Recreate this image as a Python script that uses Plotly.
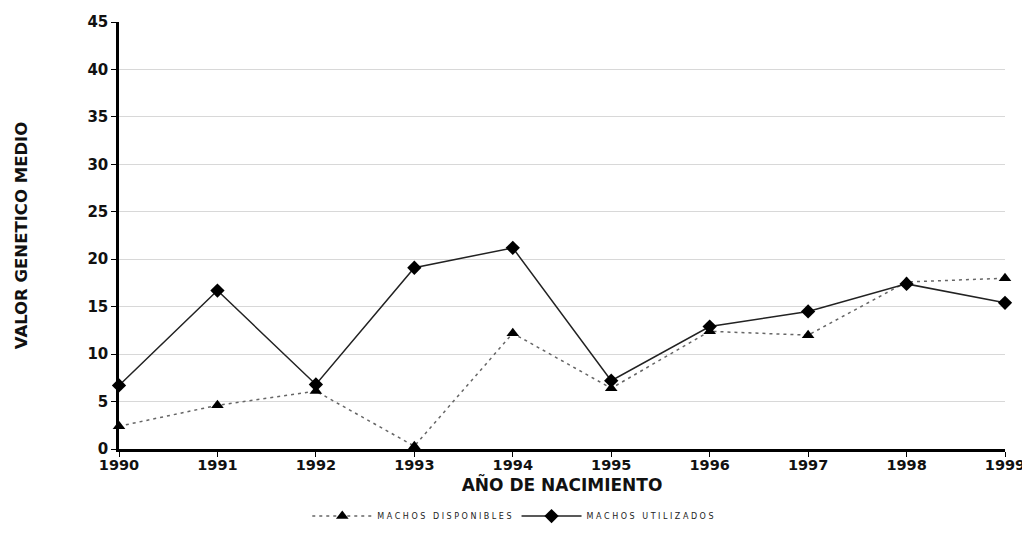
import plotly.graph_objects as go

years = [1990, 1991, 1992, 1993, 1994, 1995, 1996, 1997, 1998, 1999]
machos_disponibles = [2.4, 4.6, 6.1, 0.3, 12.2, 6.4, 12.4, 12.0, 17.6, 18.0]
machos_utilizados = [6.7, 16.7, 6.8, 19.1, 21.2, 7.2, 12.9, 14.5, 17.4, 15.4]
y_ticks = [0, 5, 10, 15, 20, 25, 30, 35, 40, 45]

font_family = "DejaVu Sans, Verdana, sans-serif"

fig = go.Figure()
fig.add_trace(go.Scatter(
    x=years, y=machos_disponibles, name="M A C H O S   D I S P O N I B L E S",
    mode="lines+markers",
    line=dict(color="#666666", width=1.5, dash="3px,4px"),
    marker=dict(symbol="triangle-up", size=11, color="black"),
    cliponaxis=False,
))
fig.add_trace(go.Scatter(
    x=years, y=machos_utilizados, name="M A C H O S   U T I L I Z A D O S",
    mode="lines+markers",
    line=dict(color="#222222", width=1.5),
    marker=dict(symbol="diamond", size=11, color="black"),
    cliponaxis=False,
))

fig.update_layout(
    width=1030, height=549,
    margin=dict(l=111, r=33, t=14, b=108, autoexpand=False),
    paper_bgcolor="white", plot_bgcolor="white",
    font=dict(family=font_family, color="#111111"),
    showlegend=True,
    legend=dict(orientation="h", x=0.445, xanchor="center", y=-0.157, yanchor="middle",
                font=dict(size=8, family=font_family, color="#222222"),
                itemwidth=60),
)
fig.update_xaxes(
    range=[1990, 1999], tickmode="array", tickvals=years,
    ticktext=[str(y) for y in years],
    showline=True, linecolor="black", linewidth=2.5,
    ticks="outside", ticklen=5, tickcolor="black",
    showgrid=False, zeroline=False, automargin=False,
    ticklabelstandoff=-4,
    tickfont=dict(size=14.5, family=font_family, color="#111111", weight="bold"),
    title=dict(text="<b>AÑO DE NACIMIENTO</b>", font=dict(size=17, color="#111111"), standoff=0),
)
fig.update_yaxes(
    range=[0, 45], tickmode="array", tickvals=y_ticks,
    showline=True, linecolor="black", linewidth=2.5,
    ticks="outside", ticklen=5, tickcolor="black",
    showgrid=True, gridcolor="#d8d8d8", gridwidth=1, zeroline=False, automargin=False,
    tickfont=dict(size=15, family=font_family, color="#111111", weight="bold"),
    title=dict(text="<b>VALOR GENETICO MEDIO</b>", font=dict(size=16.5, color="#111111"), standoff=56),
)

fig.write_html("out.html")
